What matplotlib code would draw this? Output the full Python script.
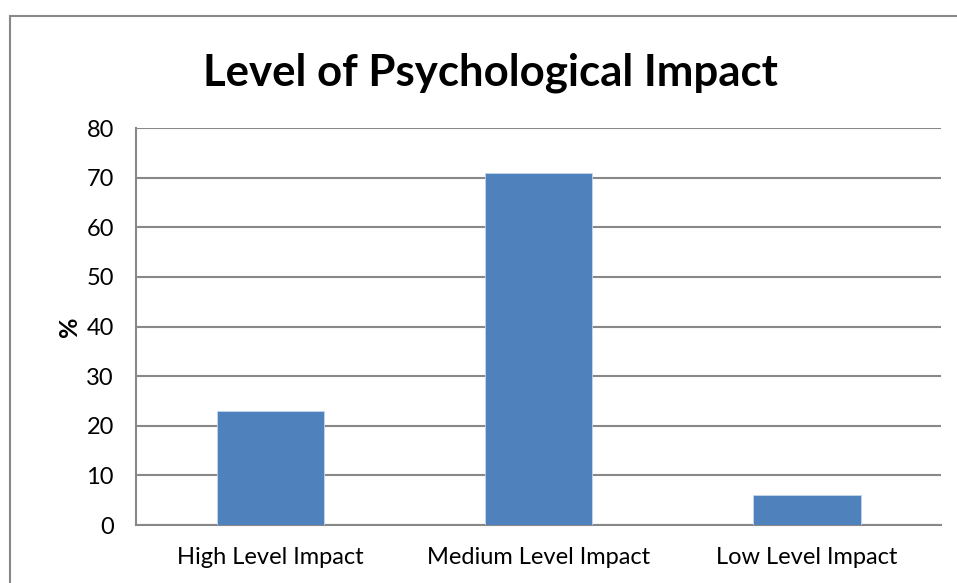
import matplotlib
matplotlib.use("Agg")
import matplotlib.pyplot as plt
from matplotlib.patches import Rectangle

categories = ["High Level Impact", "Medium Level Impact", "Low Level Impact"]
values = [23, 71, 6]
y_ticks = [0, 10, 20, 30, 40, 50, 60, 70, 80]
title = "Level of Psychological Impact"
y_label = "%"

bar_color = "#4F81BD"
grid_color = "#888888"
font = ["Lato", "DejaVu Sans"]

W, H = 957, 583
fig = plt.figure(figsize=(W / 100, H / 100), dpi=100)
fig.patch.set_facecolor("white")

# chart frame (extends past the right and bottom edges)
fig.patches.append(Rectangle((10 / W, -0.1), 1.2, 1 - 16 / H + 0.1,
                             transform=fig.transFigure, fill=False,
                             edgecolor=grid_color, linewidth=1.5))

ax = fig.add_axes([136 / W, (H - 525) / H, (941 - 136) / W, (525 - 128) / H])
x = range(len(categories))
ax.bar(x, values, width=0.4, color=bar_color, edgecolor="#C6D6EA",
       linewidth=0.6, zorder=3)

ax.set_xlim(-0.5, len(categories) - 0.5)
ax.set_ylim(0, 80)
ax.set_yticks(y_ticks)
ax.set_yticklabels([str(t) for t in y_ticks], fontsize=17, family=font)
ax.set_xticks(list(x))
ax.set_xticklabels(categories, fontsize=17, family=font)
ax.tick_params(axis="y", length=0, pad=16)
ax.tick_params(axis="x", length=0, pad=16)
ax.yaxis.grid(True, color=grid_color, linewidth=1.5, zorder=0)
ax.set_axisbelow(True)

for side in ("top", "right"):
    ax.spines[side].set_visible(False)
for side in ("left", "bottom"):
    ax.spines[side].set_color(grid_color)
    ax.spines[side].set_linewidth(1.5)

ax.set_ylabel(y_label, fontsize=18, fontweight="bold", family=font, labelpad=4)

fig.text(490 / W, 1 - 73 / H, title, ha="center", va="center",
         fontsize=31.5, fontweight="bold", family=font)

fig.savefig("out.png", dpi=100)
